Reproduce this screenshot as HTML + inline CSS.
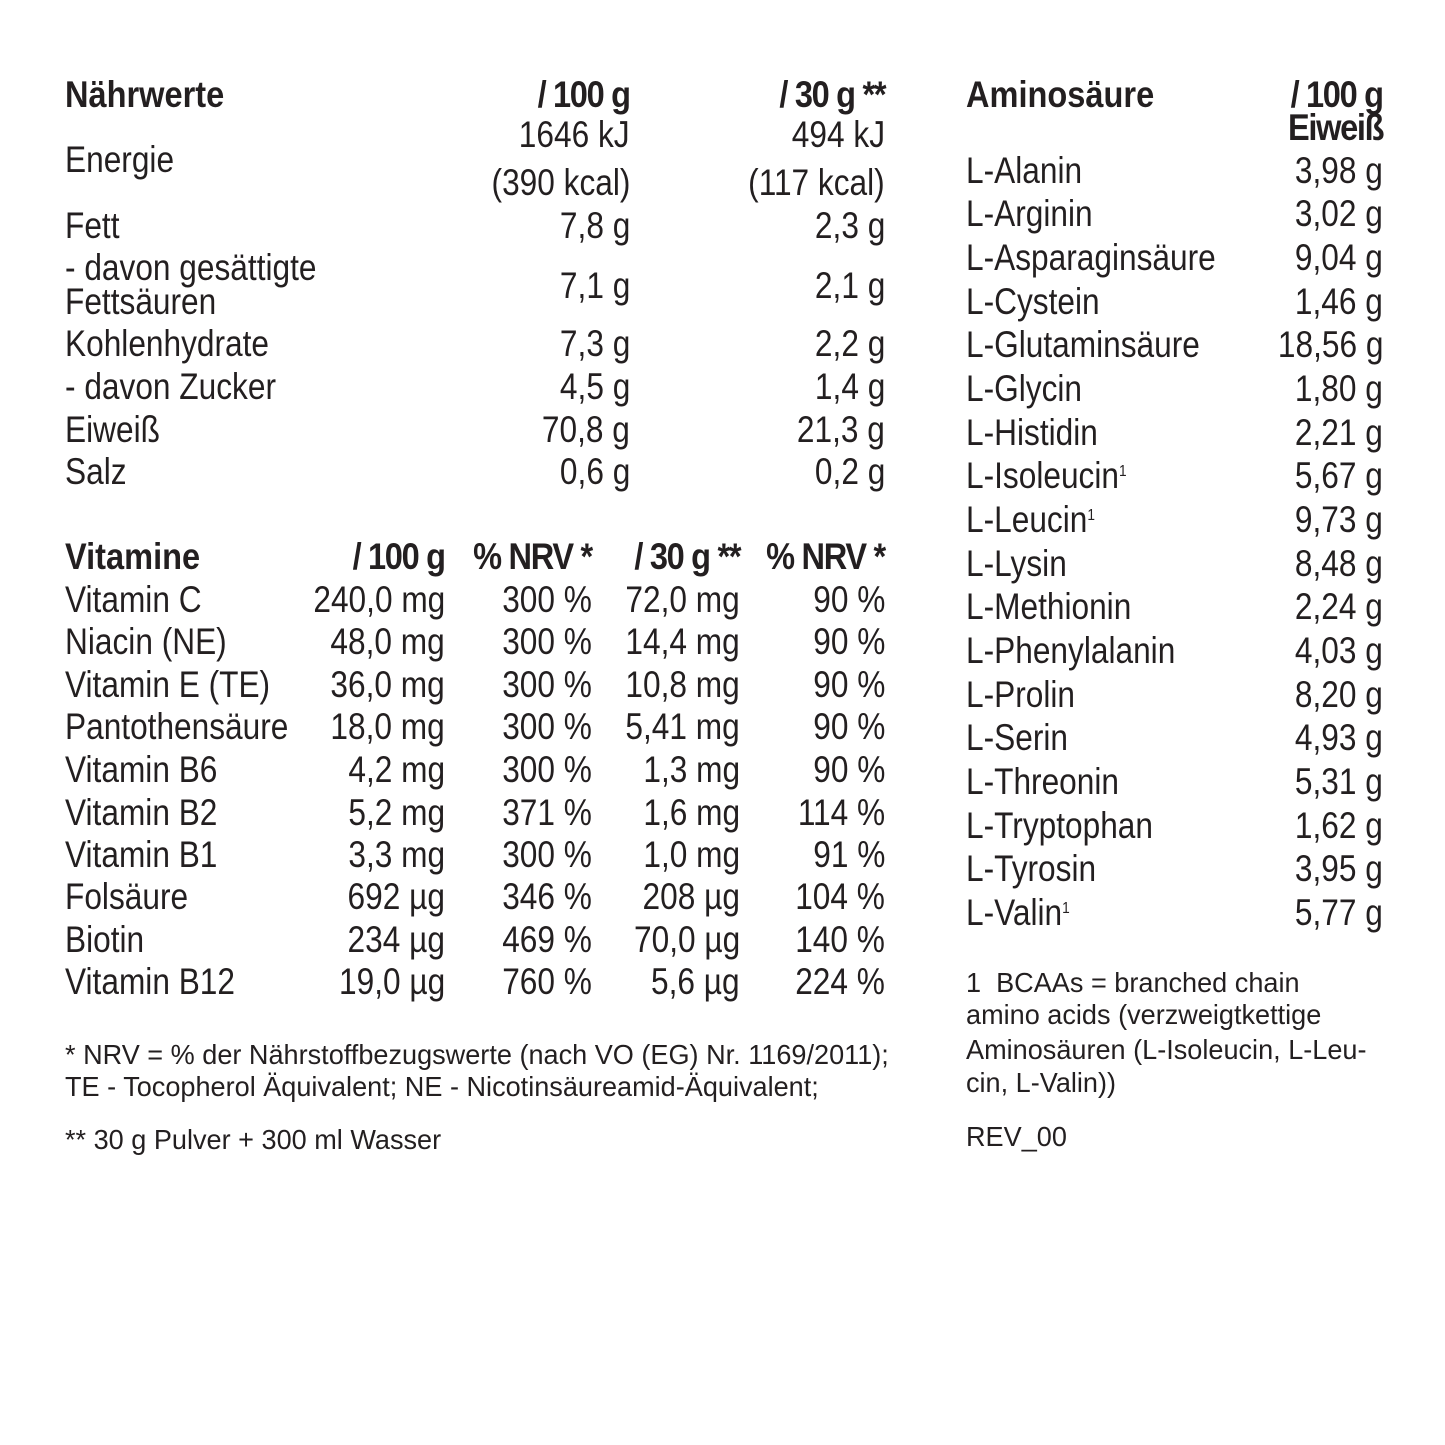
<!DOCTYPE html>
<html><head><meta charset="utf-8"><style>
body{margin:0;background:#fff;}
#c{position:relative;width:1445px;height:1445px;overflow:hidden;font-family:"Liberation Sans",sans-serif;color:#231f20;}
#c div{position:absolute;white-space:nowrap;font-size:37px;line-height:44px;height:44px;transform:scaleX(0.855);}
#c .l{transform-origin:left center;}
#c .r{transform-origin:right center;text-align:right;}
#c .b{font-weight:bold;transform:scaleX(0.88);}
#c .r.b{letter-spacing:-1.5px;}
#c .s{font-size:27.5px;line-height:34px;height:34px;transform:scaleX(0.985);}
sup{font-size:16px;vertical-align:top;position:relative;top:-4px;}
</style></head><body><div id="c">
<div class="l b" style="left:65px;top:73px">Nährwerte</div>
<div class="r b" style="right:815px;top:73px">/ 100 g</div>
<div class="r b" style="right:560px;top:73px">/ 30 g **</div>
<div class="l" style="left:65px;top:138px">Energie</div>
<div class="r" style="right:815px;top:113px">1646 kJ</div>
<div class="r" style="right:560px;top:113px">494 kJ</div>
<div class="r" style="right:815px;top:161px">(390 kcal)</div>
<div class="r" style="right:560px;top:161px">(117 kcal)</div>
<div class="l" style="left:65px;top:204px">Fett</div>
<div class="r" style="right:815px;top:204px">7,8 g</div>
<div class="r" style="right:560px;top:204px">2,3 g</div>
<div class="l" style="left:65px;top:246px">- davon gesättigte</div>
<div class="l" style="left:65px;top:280px">Fettsäuren</div>
<div class="r" style="right:815px;top:264px">7,1 g</div>
<div class="r" style="right:560px;top:264px">2,1 g</div>
<div class="l" style="left:65px;top:322px">Kohlenhydrate</div>
<div class="r" style="right:815px;top:322px">7,3 g</div>
<div class="r" style="right:560px;top:322px">2,2 g</div>
<div class="l" style="left:65px;top:365px">- davon Zucker</div>
<div class="r" style="right:815px;top:365px">4,5 g</div>
<div class="r" style="right:560px;top:365px">1,4 g</div>
<div class="l" style="left:65px;top:408px">Eiweiß</div>
<div class="r" style="right:815px;top:408px">70,8 g</div>
<div class="r" style="right:560px;top:408px">21,3 g</div>
<div class="l" style="left:65px;top:450px">Salz</div>
<div class="r" style="right:815px;top:450px">0,6 g</div>
<div class="r" style="right:560px;top:450px">0,2 g</div>

<div class="l b" style="left:65px;top:535px">Vitamine</div>
<div class="r b" style="right:1000px;top:535px">/ 100 g</div>
<div class="r b" style="right:853px;top:535px">% NRV *</div>
<div class="r b" style="right:705px;top:535px">/ 30 g **</div>
<div class="r b" style="right:560px;top:535px">% NRV *</div>

<div class="l" style="left:65px;top:578px">Vitamin C</div><div class="r" style="right:1000px;top:578px">240,0 mg</div><div class="r" style="right:853px;top:578px">300 %</div><div class="r" style="right:705px;top:578px">72,0 mg</div><div class="r" style="right:560px;top:578px">90 %</div>
<div class="l" style="left:65px;top:620px">Niacin (NE)</div><div class="r" style="right:1000px;top:620px">48,0 mg</div><div class="r" style="right:853px;top:620px">300 %</div><div class="r" style="right:705px;top:620px">14,4 mg</div><div class="r" style="right:560px;top:620px">90 %</div>
<div class="l" style="left:65px;top:663px">Vitamin E (TE)</div><div class="r" style="right:1000px;top:663px">36,0 mg</div><div class="r" style="right:853px;top:663px">300 %</div><div class="r" style="right:705px;top:663px">10,8 mg</div><div class="r" style="right:560px;top:663px">90 %</div>
<div class="l" style="left:65px;top:705px">Pantothensäure</div><div class="r" style="right:1000px;top:705px">18,0 mg</div><div class="r" style="right:853px;top:705px">300 %</div><div class="r" style="right:705px;top:705px">5,41 mg</div><div class="r" style="right:560px;top:705px">90 %</div>
<div class="l" style="left:65px;top:748px">Vitamin B6</div><div class="r" style="right:1000px;top:748px">4,2 mg</div><div class="r" style="right:853px;top:748px">300 %</div><div class="r" style="right:705px;top:748px">1,3 mg</div><div class="r" style="right:560px;top:748px">90 %</div>
<div class="l" style="left:65px;top:791px">Vitamin B2</div><div class="r" style="right:1000px;top:791px">5,2 mg</div><div class="r" style="right:853px;top:791px">371 %</div><div class="r" style="right:705px;top:791px">1,6 mg</div><div class="r" style="right:560px;top:791px">114 %</div>
<div class="l" style="left:65px;top:833px">Vitamin B1</div><div class="r" style="right:1000px;top:833px">3,3 mg</div><div class="r" style="right:853px;top:833px">300 %</div><div class="r" style="right:705px;top:833px">1,0 mg</div><div class="r" style="right:560px;top:833px">91 %</div>
<div class="l" style="left:65px;top:875px">Folsäure</div><div class="r" style="right:1000px;top:875px">692 µg</div><div class="r" style="right:853px;top:875px">346 %</div><div class="r" style="right:705px;top:875px">208 µg</div><div class="r" style="right:560px;top:875px">104 %</div>
<div class="l" style="left:65px;top:918px">Biotin</div><div class="r" style="right:1000px;top:918px">234 µg</div><div class="r" style="right:853px;top:918px">469 %</div><div class="r" style="right:705px;top:918px">70,0 µg</div><div class="r" style="right:560px;top:918px">140 %</div>
<div class="l" style="left:65px;top:960px">Vitamin B12</div><div class="r" style="right:1000px;top:960px">19,0 µg</div><div class="r" style="right:853px;top:960px">760 %</div><div class="r" style="right:705px;top:960px">5,6 µg</div><div class="r" style="right:560px;top:960px">224 %</div>

<div class="l s" style="left:65px;top:1038px">* NRV = % der Nährstoffbezugswerte (nach VO (EG) Nr. 1169/2011);</div>
<div class="l s" style="left:65px;top:1070px">TE - Tocopherol Äquivalent; NE - Nicotinsäureamid-Äquivalent;</div>
<div class="l s" style="left:65px;top:1123px">** 30 g Pulver + 300 ml Wasser</div>

<div class="l b" style="left:966px;top:73px">Aminosäure</div>
<div class="r b" style="right:62px;top:73px">/ 100 g</div>
<div class="r b" style="right:62px;top:106px">Eiweiß</div>
<div class="l" style="left:966px;top:149px">L-Alanin</div><div class="r" style="right:62px;top:149px">3,98 g</div>
<div class="l" style="left:966px;top:192px">L-Arginin</div><div class="r" style="right:62px;top:192px">3,02 g</div>
<div class="l" style="left:966px;top:236px">L-Asparaginsäure</div><div class="r" style="right:62px;top:236px">9,04 g</div>
<div class="l" style="left:966px;top:280px">L-Cystein</div><div class="r" style="right:62px;top:280px">1,46 g</div>
<div class="l" style="left:966px;top:323px">L-Glutaminsäure</div><div class="r" style="right:62px;top:323px">18,56 g</div>
<div class="l" style="left:966px;top:367px">L-Glycin</div><div class="r" style="right:62px;top:367px">1,80 g</div>
<div class="l" style="left:966px;top:411px">L-Histidin</div><div class="r" style="right:62px;top:411px">2,21 g</div>
<div class="l" style="left:966px;top:454px">L-Isoleucin<sup>1</sup></div><div class="r" style="right:62px;top:454px">5,67 g</div>
<div class="l" style="left:966px;top:498px">L-Leucin<sup>1</sup></div><div class="r" style="right:62px;top:498px">9,73 g</div>
<div class="l" style="left:966px;top:542px">L-Lysin</div><div class="r" style="right:62px;top:542px">8,48 g</div>
<div class="l" style="left:966px;top:585px">L-Methionin</div><div class="r" style="right:62px;top:585px">2,24 g</div>
<div class="l" style="left:966px;top:629px">L-Phenylalanin</div><div class="r" style="right:62px;top:629px">4,03 g</div>
<div class="l" style="left:966px;top:673px">L-Prolin</div><div class="r" style="right:62px;top:673px">8,20 g</div>
<div class="l" style="left:966px;top:716px">L-Serin</div><div class="r" style="right:62px;top:716px">4,93 g</div>
<div class="l" style="left:966px;top:760px">L-Threonin</div><div class="r" style="right:62px;top:760px">5,31 g</div>
<div class="l" style="left:966px;top:804px">L-Tryptophan</div><div class="r" style="right:62px;top:804px">1,62 g</div>
<div class="l" style="left:966px;top:847px">L-Tyrosin</div><div class="r" style="right:62px;top:847px">3,95 g</div>
<div class="l" style="left:966px;top:891px">L-Valin<sup>1</sup></div><div class="r" style="right:62px;top:891px">5,77 g</div>

<div class="l s" style="left:966px;top:966px">1&nbsp; BCAAs = branched chain</div>
<div class="l s" style="left:966px;top:998px">amino acids (verzweigtkettige</div>
<div class="l s" style="left:966px;top:1033px">Aminosäuren (L-Isoleucin, L-Leu-</div>
<div class="l s" style="left:966px;top:1066px">cin, L-Valin))</div>
<div class="l s" style="left:966px;top:1120px">REV_00</div>
</div></body></html>
